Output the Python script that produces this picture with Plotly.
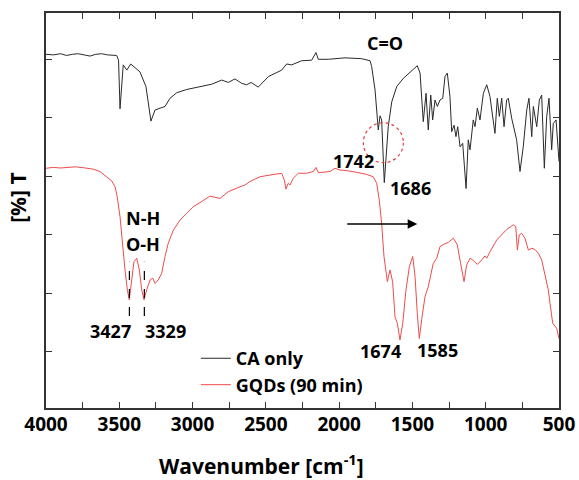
import plotly.graph_objects as go

# ---- CA only (black) ----
ca_wn = [4000, 3950, 3900, 3860, 3820, 3780, 3740, 3700, 3660, 3620, 3580, 3540, 3518, 3505,
         3495, 3473, 3449, 3422, 3359, 3318, 3302, 3284, 3256, 3222, 3188, 3154, 3108, 3040,
         2949, 2869, 2801, 2756, 2711, 2665, 2631, 2601, 2552, 2483, 2392, 2358, 2324, 2256,
         2187, 2158, 2142, 2074, 1960, 1846, 1789, 1778, 1755, 1733, 1721, 1710, 1692, 1665,
         1641, 1607, 1562, 1517, 1467, 1448, 1426, 1407, 1392, 1375, 1362, 1346, 1330, 1312,
         1293, 1278, 1262, 1244, 1232, 1216, 1203, 1191, 1175, 1157, 1134, 1119, 1107, 1085,
         1073, 1057, 1039, 1016, 993, 971, 937, 921, 907, 891, 875, 857, 846, 823, 789, 766,
         744, 720, 705, 686, 675, 652, 634, 618, 600, 584, 568, 550, 539, 520, 505, 500]
ca_t = [60.8, 60.7, 60.9, 60.6, 60.8, 60.9, 60.7, 60.5, 60.8, 60.9, 60.7, 60.7, 60.6, 59.8,
        51.5, 59.0, 58.1, 59.15, 57.8, 55.3, 52.5, 49.4, 51.3, 51.6, 51.9, 53.3, 54.25, 54.8,
        55.3, 55.7, 56.4, 56.0, 56.6, 55.85, 55.6, 56.0, 55.2, 57.0, 58.1, 59.15, 59.0, 59.7,
        59.8, 61.1, 59.95, 59.95, 60.2, 60.05, 59.7, 58.7, 54.7, 47.9, 50.3, 49.6, 38.9, 48.45,
        52.7, 55.3, 56.7, 57.8, 58.85, 57.6, 49.3, 54.15, 47.9, 53.85, 49.6, 53.0, 51.9, 53.0,
        53.3, 57.0, 57.6, 53.6, 47.6, 48.7, 46.75, 48.45, 45.0, 45.6, 37.9, 46.2, 44.5, 49.6,
        48.45, 51.6, 49.6, 54.15, 55.6, 53.6, 47.3, 53.3, 50.2, 53.3, 48.45, 53.0, 53.3, 49.9, 46.2, 40.8,
        45.0, 51.3, 53.3, 46.75, 51.9, 48.45, 53.0, 53.85, 41.35, 50.2, 53.3, 44.5, 49.0, 49.6, 44.5, 42.5]

# ---- GQDs (90 min) (red) ----
gq_wn = [4000, 3950, 3900, 3850, 3800, 3746, 3700, 3677, 3632, 3586, 3552, 3529, 3514, 3495,
         3477, 3461, 3445, 3432, 3415, 3400, 3381, 3363, 3347, 3331, 3313, 3290, 3272, 3256,
         3234, 3211, 3188, 3166, 3131, 3086, 3040, 2995, 2949, 2881, 2813, 2756, 2676, 2642,
         2608, 2540, 2472, 2392, 2374, 2363, 2347, 2335, 2313, 2279, 2221, 2176, 2158, 2142,
         2062, 2028, 1994, 1948, 1880, 1812, 1767, 1744, 1726, 1710, 1694, 1671, 1653, 1635,
         1619, 1603, 1585, 1566, 1544, 1521, 1498, 1482, 1467, 1453, 1437, 1414, 1392, 1358,
         1334, 1312, 1285, 1255, 1221, 1194, 1171, 1148, 1130, 1107, 1085, 1057, 1027, 1005,
         993, 971, 925, 891, 857, 812, 795, 784, 771, 755, 732, 709, 686, 664, 641, 618, 596,
         573, 561, 555, 543, 516, 500]
gq_t = [41.35, 41.5, 41.4, 41.5, 41.6, 41.45, 41.3, 41.2, 40.8, 39.9, 39.2, 38.2, 36.5, 33.1,
        27.97, 24.0, 20.6, 18.9, 22.3, 25.4, 26.0, 24.0, 20.6, 18.9, 20.6, 22.3, 22.6, 21.7,
        22.3, 23.4, 26.3, 28.55, 30.8, 32.5, 33.7, 34.8, 35.5, 36.6, 36.2, 37.35, 38.2, 38.5,
        39.1, 39.9, 40.2, 40.5, 39.35, 37.8, 38.8, 38.5, 39.65, 40.5, 40.5, 40.8, 41.5, 40.6,
        40.8, 41.35, 41.05, 40.95, 40.65, 40.3, 39.9, 38.8, 35.9, 31.95, 26.3, 22.0, 24.0, 22.0,
        16.0, 14.9, 12.05, 14.9, 20.6, 24.55, 26.3, 22.85, 16.6, 12.3, 15.5, 19.45, 21.15, 25.1,
        26.0, 27.97, 28.4, 28.7, 29.4, 28.3, 25.1, 22.0, 24.85, 26.0, 25.6, 24.95, 25.7, 26.4,
        26.0, 27.1, 29.1, 29.97, 30.9, 31.7, 31.4, 27.4, 29.97, 30.25, 29.4, 27.4, 27.7, 27.5, 26.85, 25.7, 23.4,
        20.6, 18.3, 17.2, 14.9, 14.05, 12.3]

x_tickvals = [4000, 3750, 3500, 3250, 3000, 2750, 2500, 2250, 2000, 1750, 1500, 1250, 1000, 750, 500]
x_ticktext = ["<b>4000</b>", "", "<b>3500</b>", "", "<b>3000</b>", "", "<b>2500</b>", "",
              "<b>2000</b>", "", "<b>1500</b>", "", "<b>1000</b>", "", "<b>500</b>"]
y_tickvals = [10, 20, 30, 40, 50, 60]

FONT = "Open Sans"

fig = go.Figure()
fig.add_trace(go.Scatter(x=ca_wn, y=ca_t, mode="lines", name="<b>CA only</b>",
                         line=dict(color="#2a2a2a", width=1)))
fig.add_trace(go.Scatter(x=gq_wn, y=gq_t, mode="lines", name="<b>GQDs (90 min)</b>",
                         line=dict(color="rgb(240,75,75)", width=1)))

def lab(x, y, t, size=18):
    fig.add_annotation(x=x, y=y, text="<b>" + t + "</b>", showarrow=False,
                       xanchor="center", yanchor="middle",
                       font=dict(family=FONT, size=size, color="black"))

lab(1684, 62.8, "C=O")
lab(1899, 42.6, "1742")
lab(1510, 38.0, "1686")
lab(3338, 32.9, "N-H")
lab(3338, 28.5, "O-H")
lab(3557, 13.6, "3427")
lab(3188, 13.6, "3329")
lab(1721, 10.1, "1674")
lab(1326, 10.35, "1585")

# dashed marker lines
for wx in [3431, 3329]:
    fig.add_shape(type="line", x0=wx, x1=wx, y0=16.15, y1=25.4, xref="x", yref="y",
                  line=dict(color="black", width=1.2, dash="dash"))

# dotted red circle
fig.add_shape(type="circle", x0=1835, x1=1562, y0=42.3, y1=49.13, xref="x", yref="y",
              line=dict(color="rgb(230,60,60)", width=1.2, dash="dot"))

# arrow
fig.add_annotation(x=1467, y=31.85, ax=1955, ay=31.85, xref="x", yref="y", axref="x", ayref="y",
                   showarrow=True, arrowhead=2, arrowsize=1.2, arrowwidth=1.6, arrowcolor="black", text="")

# axis titles as annotations (positioned as in the reference)
fig.add_annotation(x=0.421, y=-0.144, xref="paper", yref="paper", showarrow=False,
                   xanchor="center", yanchor="middle",
                   text="<b>Wavenumber [cm<sup>-1</sup>]</b>", font=dict(family=FONT, size=21, color="black"))
fig.add_annotation(x=-0.0546, y=0.532, xref="paper", yref="paper", showarrow=False, textangle=-90,
                   xanchor="center", yanchor="middle",
                   text="<b>[%] T</b>", font=dict(family=FONT, size=21, color="black"))

fig.update_layout(
    width=579, height=480,
    margin=dict(l=46, r=20, t=13, b=72, autoexpand=False),
    paper_bgcolor="white", plot_bgcolor="white",
    font=dict(family=FONT, color="black"),
    showlegend=True,
    legend=dict(x=0.292, y=0.172, xanchor="left", yanchor="top", bgcolor="rgba(0,0,0,0)",
                font=dict(family=FONT, size=18, color="black"), itemwidth=30),
    xaxis=dict(range=[4000, 500], tickvals=x_tickvals, ticktext=x_ticktext, automargin=False,
               ticks="inside", ticklen=6, tickwidth=1.2, tickcolor="#333",
               showline=True, linecolor="#333", linewidth=1.5, mirror="ticks",
               showgrid=False, zeroline=False, ticklabelstandoff=-2,
               tickfont=dict(family=FONT, size=19, color="black")),
    yaxis=dict(range=[0.44, 67.85], tickvals=y_tickvals, showticklabels=False, automargin=False,
               ticks="inside", ticklen=6, tickwidth=1.2, tickcolor="#333",
               showline=True, linecolor="#333", linewidth=1.5, mirror="ticks",
               showgrid=False, zeroline=False),
)

fig.write_html("out.html", config={"displayModeBar": False},
               post_script="document.body.style.margin='0';")
